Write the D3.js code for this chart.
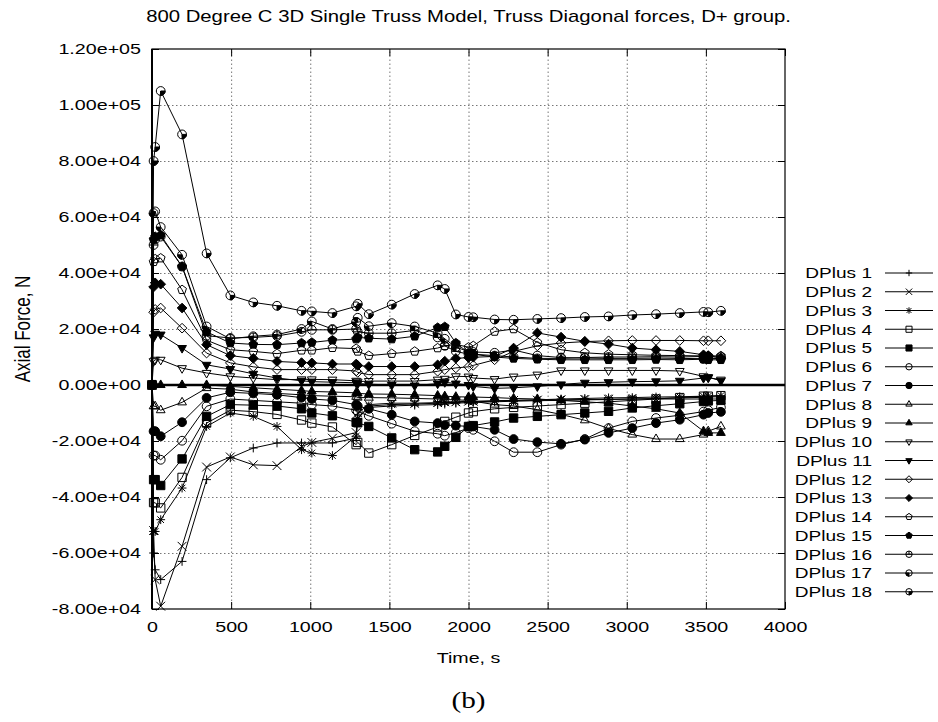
<!DOCTYPE html>
<html>
<head>
<meta charset="utf-8">
<script src="https://cdn.jsdelivr.net/npm/d3@7"></script>
<style>
  body { margin: 0; background: #fff; }
  svg { font-family: "Liberation Sans", Arial, sans-serif; }
</style>
</head>
<body>
<div id="chart"><svg width="938" height="722"></svg></div>
<script>
// ---- data (time in s, forces in kN) ----
const times = [0, 10, 20, 55, 190, 345, 495, 640, 790, 945, 1010, 1140, 1290, 1300, 1370, 1515, 1660,
               1805, 1850, 1920, 2000, 2030, 2165, 2285, 2435, 2585, 2735, 2885, 3035, 3185, 3335, 3485, 3515, 3595];

const dplus1  = [0,-60,-66,-69.5,-63,-33.8,-26,-22.5,-20.7,-20.7,-20.7,-20.7,-19,-12,-8,-7.5,-7.2,-7,-6.8,-6.5,-6.3,-6.2,-6,-5.8,-5.6,-5.5,-5.3,-5.2,-5,-4.8,-4.6,-4.4,-4.3,-4.2];
const dplus2  = [0,-52,-69.5,-79,-57.6,-29.3,-25.7,-28.5,-28.8,-22,-20.5,-19,-17,-10,-7,-6.5,-6.5,-6.3,-6,-6,-5.8,-5.8,-5.6,-5.5,-5.4,-5.3,-5.2,-5.1,-5,-5,-5,-5,-5,-5];
const dplus3  = [0,-52.3,-52.3,-48.1,-36.8,-14.8,-10,-11.2,-14.8,-23.1,-24.3,-25.2,-18.3,-12,-7.5,-7,-6.8,-6.5,-6.3,-6.2,-6,-6,-5.8,-5.5,-5.3,-5,-4.8,-4.6,-4.5,-4.3,-4.2,-4,-4,-3.8];
const dplus4  = [0,-42,-42.1,-43.9,-33,-13.6,-9,-9.5,-10.5,-12.5,-13.6,-15,-21.3,-20.5,-24.3,-21.3,-18,-15,-13,-11.5,-10,-9.5,-8.5,-8,-7.5,-7,-6.5,-6,-5.5,-5,-4.5,-4,-4,-3.8];
const dplus5  = [0,-33.8,-33.8,-35.9,-26.4,-11.2,-7,-7.2,-7.5,-8.5,-10,-11,-13.3,-13.5,-14.8,-18.9,-23.1,-23.9,-21.9,-18.7,-14.8,-14.5,-13.2,-11.8,-11.2,-10.6,-10,-9.4,-8.2,-7.4,-6.7,-5.9,-5.7,-5.5];
const dplus6  = [0,-25.2,-25.2,-26.7,-19.9,-7.6,-5,-5.5,-6,-6.5,-7,-7.5,-9,-9.5,-11,-13.8,-16.5,-17.4,-18.1,-17,-15.4,-16,-20.1,-24,-24,-21.3,-19.3,-15.4,-13,-11.8,-10.8,-9.5,-9,-8];
const dplus7  = [0,-16.5,-16.5,-18.3,-13.3,-4.6,-2.6,-3,-3.5,-4.5,-5,-5.5,-7,-7.5,-8.5,-10.6,-13,-13.6,-14.3,-14.5,-14.8,-14.8,-16,-19.3,-20.4,-21,-19.5,-17.1,-15.4,-13.6,-12.4,-10.6,-10,-9.6];
const dplus8  = [0,-7.6,-7.6,-9,-6.2,-1.1,-1.5,-2.5,-3,-3.5,-3.8,-4,-4.2,-4.5,-4.5,-4.6,-4.8,-5,-5.2,-5.3,-5.5,-5.8,-7,-7.5,-8.8,-10.5,-12.6,-15.5,-17.7,-19.3,-19.3,-17.7,-16.5,-14.8];
const dplus9  = [0,0,0,0,0,0,-0.5,-1,-1.5,-2,-2.3,-2.5,-2.8,-3,-3.2,-3.3,-3.5,-3.8,-4,-4.2,-4.3,-4.3,-4.5,-4.8,-5,-5.5,-6,-6.5,-7.5,-8.5,-10,-16.5,-17.1,-17.1];
const dplus10 = [0,8.5,9,9,6,4.3,3.1,2.5,1.9,2,2,1.9,1.5,1.2,1.4,1.4,1.4,1.9,2.2,3.1,3,2.5,2.1,3,3.7,5.2,5.2,5.2,5.2,5.2,5,3.1,2.6,1.9];
const dplus11 = [0,17,18.3,18,13.2,7.2,5.7,4,2.5,1.5,1.2,1,0.8,0.5,0.3,0,-0.2,0.5,1,0.5,0,-0.5,-1.2,-1,-0.5,0.2,0.8,1,1.2,1.3,1.5,2.5,2.8,1.5];
const dplus12 = [0,26,27,27.5,20.3,11.4,7.9,6.5,5.5,5.5,5.5,5.5,5,4.5,3.7,3.7,3.7,4.9,5.5,6.1,6.5,7,9,12,14,15,15.5,15.8,15.9,15.9,15.9,15.8,15.8,15.8];
const dplus13 = [0,35,36.5,36,27.5,14.4,10.5,9.5,8.4,8,7.9,7.5,7.5,7,6.6,6.6,6.6,7.2,8.5,9.5,9.8,9.9,10.2,13.2,18.6,17.1,15.6,14.6,13.2,12.6,12,10.8,10.5,9.6];
const dplus14 = [0,44,45,45.3,34,16,12.6,12,11.2,12.4,12.4,13.3,13,12,10.5,11.2,12,13.2,14,14.5,13.5,14,19.1,20,15.2,12.6,11.5,11,10.8,10.6,10.5,10.4,10.4,10.4];
const dplus15 = [0,52,53,53.5,42.3,19,15,14.5,14.4,15,15.2,16,16.4,17,16.7,16.4,17.4,20.5,20.8,15,11.5,11,10,9.5,9.2,9,9,9,9,9.1,9,9.2,9,9];
const dplus16 = [0,50,52,53,42.3,17.6,16.8,17,17.5,19,19.7,19.7,20,19,18.5,18.5,19.5,17,14,12,11,11,10.5,10,9.5,9.5,9.8,10,10,10.1,10,10.2,10.1,10];
const dplus17 = [0,61.4,62,56.4,46.5,20.9,16.5,17.4,18,20,22.7,20,22.5,24,21,22.1,20.9,18.5,16.5,13.5,12,11.8,11.5,12.5,10.5,9.8,9.6,9.5,9.5,9.6,9.5,9.4,9.4,9.5];
const dplus18 = [0,80,85,105,89.5,47,32,29.5,28.3,26.5,26.3,25.7,28.1,29,25.3,28.7,32.5,35.6,34.3,25.2,24.3,24.2,23.4,23.3,23.6,23.9,24.3,24.5,25,25.3,25.7,26.1,26,26.5];

const seriesValues = [dplus1, dplus2, dplus3, dplus4, dplus5, dplus6, dplus7, dplus8, dplus9,
                      dplus10, dplus11, dplus12, dplus13, dplus14, dplus15, dplus16, dplus17, dplus18];
const seriesNames = seriesValues.map((v, i) => "DPlus " + (i + 1));

const xTicks = [0, 500, 1000, 1500, 2000, 2500, 3000, 3500, 4000];
const yTicks = [-80000, -60000, -40000, -20000, 0, 20000, 40000, 60000, 80000, 100000, 120000];
const KN = 1000;

/***** setup *****/
const svg = d3.select("#chart svg");
const margin = {left: 152, right: 153, top: 49, bottom: 113};
const width = 938, height = 722;
const SX = 1.27;   // the original figure is stretched sideways, text included

const x = d3.scaleLinear().domain([0, 4000]).range([margin.left, width - margin.right]);
const y = d3.scaleLinear().domain([-80000, 120000]).range([height - margin.bottom, margin.top]);

const fmtE = d => d3.format(".2e")(d).replace("−", "-").replace(/e([+-])(\d)$/, "e$10$2");

// widen text glyphs sideways, keeping its anchor point
function stretch(sel) {
    sel.each(function() {
        const t = d3.select(this);
        const xv = +t.attr("x") || 0;
        t.attr("x", xv / SX).attr("transform", `scale(${SX},1)`);
    });
}

/***** grid *****/
svg.append("g")
    .attr("transform", `translate(0, ${y(-80000)})`)
    .call(d3.axisBottom(x).tickValues(xTicks.slice(1, -1)).tickSize(-(y(-80000) - y(120000))).tickFormat(""))
    .call(g => g.select(".domain").remove())
    .selectAll("line").attr("stroke", "#777").attr("stroke-dasharray", "1.5,2.5");

svg.append("g")
    .attr("transform", `translate(${x(0)}, 0)`)
    .call(d3.axisLeft(y).tickValues(yTicks.slice(1, -1)).tickSize(-(x(4000) - x(0))).tickFormat(""))
    .call(g => g.select(".domain").remove())
    .selectAll("line").attr("stroke", "#777").attr("stroke-dasharray", "1.5,2.5");

/***** axes (ticks inward, mirrored) *****/
const axisFont = g => g.selectAll("text")
    .attr("font-size", 15.5).attr("fill", "#000")
    .attr("font-family", "Liberation Sans, Arial, sans-serif")
    .call(stretch);

svg.append("g")
    .attr("transform", `translate(${x(0)}, 0)`)
    .call(d3.axisLeft(y).tickValues(yTicks).tickSize(-7).tickPadding(11).tickFormat(fmtE))
    .call(axisFont)
    .call(g => g.select(".domain").remove());

svg.append("g")
    .attr("transform", `translate(${x(4000)}, 0)`)
    .call(d3.axisRight(y).tickValues(yTicks).tickSize(-7).tickFormat(""))
    .call(g => g.select(".domain").remove());

svg.append("g")
    .attr("transform", `translate(0, ${y(-80000)})`)
    .call(d3.axisBottom(x).tickValues(xTicks).tickSize(-7).tickPadding(12).tickFormat(d3.format("d")))
    .call(axisFont)
    .call(g => g.select(".domain").remove());

svg.append("g")
    .attr("transform", `translate(0, ${y(120000)})`)
    .call(d3.axisTop(x).tickValues(xTicks).tickSize(-7).tickFormat(""))
    .call(g => g.select(".domain").remove());

// frame
svg.append("rect")
    .attr("x", x(0)).attr("y", y(120000))
    .attr("width", x(4000) - x(0)).attr("height", y(-80000) - y(120000))
    .attr("fill", "none").attr("stroke", "#000").attr("stroke-width", 1.2);

// zero axis
svg.append("line")
    .attr("x1", x(0)).attr("x2", x(4000)).attr("y1", y(0)).attr("y2", y(0))
    .attr("stroke", "#000").attr("stroke-width", 2.6);
svg.append("line")
    .attr("x1", x(0)).attr("x2", x(0)).attr("y1", y(120000)).attr("y2", y(-80000))
    .attr("stroke", "#000").attr("stroke-width", 2);

/***** markers (gnuplot point types 1..18) *****/
function polygon(n, r, rot) {
    const pts = d3.range(n).map(k => {
        const a = rot + k * 2 * Math.PI / n;
        return [r * Math.sin(a), -r * Math.cos(a)];
    });
    return "M" + pts.map(p => p[0].toFixed(2) + "," + p[1].toFixed(2)).join("L") + "Z";
}

function drawMarker(g, type, r) {
    const stroke = "#000";
    const circ = (fill) => g.append("circle").attr("r", r).attr("fill", fill).attr("stroke", stroke).attr("stroke-width", 1);
    const path = (d, fill) => g.append("path").attr("d", d).attr("fill", fill).attr("stroke", stroke).attr("stroke-width", 1);
    const plus = `M${-r},0H${r}M0,${-r}V${r}`;
    const c = r * 0.75;
    const cross = `M${-r},${-r}L${r},${r}M${-r},${r}L${r},${-r}`;
    const smallCross = `M${-c},${-c}L${c},${c}M${-c},${c}L${c},${-c}`;
    const s = r * 0.95;
    switch (type) {
        case 1: path(plus, "none"); break;
        case 2: path(cross, "none"); break;
        case 3: path(plus + smallCross, "none"); break;
        case 4: path(`M${-s},${-s}H${s}V${s}H${-s}Z`, "none"); break;
        case 5: path(`M${-s},${-s}H${s}V${s}H${-s}Z`, "#000"); break;
        case 6: circ("none"); break;
        case 7: circ("#000"); break;
        case 8: path(polygon(3, r * 1.15, 0), "none"); break;
        case 9: path(polygon(3, r * 1.15, 0), "#000"); break;
        case 10: path(polygon(3, r * 1.15, Math.PI), "none"); break;
        case 11: path(polygon(3, r * 1.15, Math.PI), "#000"); break;
        case 12: path(polygon(4, r * 1.1, 0), "none"); break;
        case 13: path(polygon(4, r * 1.1, 0), "#000"); break;
        case 14: path(polygon(5, r * 1.05, 0), "none"); break;
        case 15: path(polygon(5, r * 1.05, 0), "#000"); break;
        case 16: circ("none"); path(`M${-r},0H${r}M0,${-r}V0`, "none"); break;
        case 17: circ("none"); path(`M0,0V${r}A${r},${r} 0 0 1 ${-r},0Z`, "#000"); break;
        case 18: circ("none"); path(`M0,0H${r}A${r},${r} 0 0 1 0,${r}Z`, "#000"); break;
    }
}

/***** series *****/
const line = d3.line().x(d => x(d.t)).y(d => y(d.v));
const plot = svg.append("g").attr("class", "plot");

seriesValues.forEach((vals, i) => {
    const pts = times.map((t, k) => ({t: t, v: vals[k] * KN}));
    plot.append("path")
        .datum(pts)
        .attr("d", line)
        .attr("fill", "none")
        .attr("stroke", "#000")
        .attr("stroke-width", 1);
    plot.selectAll(".pt" + i)
        .data(pts)
        .join("g")
        .attr("class", "pt" + i)
        .attr("transform", d => `translate(${x(d.t)},${y(d.v)})`)
        .each(function() { drawMarker(d3.select(this), i + 1, 4.4); });
});

/***** legend *****/
const legend = svg.append("g").attr("class", "legend");
seriesNames.forEach((name, i) => {
    const ly = 273 + i * 18.75;
    legend.append("text")
        .attr("transform", `translate(872, ${ly}) scale(${SX},1)`)
        .attr("dy", "0.35em")
        .attr("text-anchor", "end").attr("font-size", 15)
        .text(name);
    legend.append("line")
        .attr("x1", 885).attr("x2", 933).attr("y1", ly).attr("y2", ly)
        .attr("stroke", "#000").attr("stroke-width", 1);
    const g = legend.append("g").attr("transform", `translate(909,${ly})`);
    drawMarker(g, i + 1, 3.2);
});

/***** titles *****/
const cx = (x(0) + x(4000)) / 2;

svg.append("text")
    .attr("transform", `translate(${cx}, 16) scale(${SX},1)`)
    .attr("dy", "0.35em")
    .attr("text-anchor", "middle").attr("font-size", 16)
    .text("800 Degree C 3D Single Truss Model, Truss Diagonal forces, D+ group.");

svg.append("text")
    .attr("transform", `translate(22, ${(y(120000) + y(-80000)) / 2}) scale(${SX},1) rotate(-90)`)
    .attr("dy", "0.35em")
    .attr("text-anchor", "middle").attr("font-size", 17)
    .text("Axial Force, N");

svg.append("text")
    .attr("transform", `translate(${cx}, 658) scale(${SX},1)`)
    .attr("dy", "0.35em")
    .attr("text-anchor", "middle").attr("font-size", 15.5)
    .text("Time, s");

svg.append("text")
    .attr("transform", `translate(${cx}, 700) scale(${SX},1)`)
    .attr("dy", "0.35em")
    .attr("text-anchor", "middle").attr("font-size", 23)
    .attr("font-family", "Liberation Serif, DejaVu Serif, serif")
    .text("(b)");
</script>
</body>
</html>
